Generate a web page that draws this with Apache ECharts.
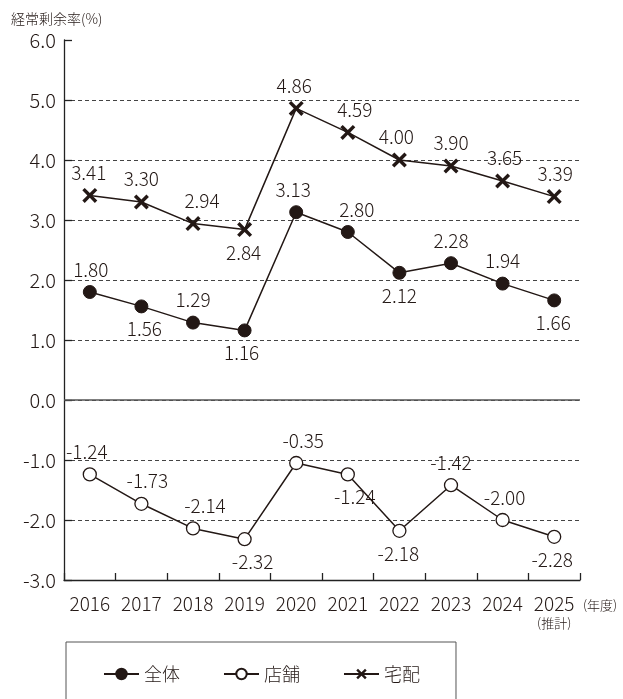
<!DOCTYPE html>
<html>
<head>
<meta charset="utf-8">
<script src="https://cdn.jsdelivr.net/npm/echarts@6/dist/echarts.min.js"></script>
<style>
  html, body { margin: 0; padding: 0; background: #fff; }
  #chart { width: 623px; height: 699px; }
</style>
</head>
<body>
<div id="chart"></div>
<script>
// 年度
const years = ['2016', '2017', '2018', '2019', '2020', '2021', '2022', '2023', '2024', '2025'];
const yTicks = [-3, -2, -1, 0, 1, 2, 3, 4, 5, 6];

// 全体
const allValues = [1.80, 1.56, 1.29, 1.16, 3.13, 2.80, 2.12, 2.28, 1.94, 1.66];
const allLabels = ['1.80', '1.56', '1.29', '1.16', '3.13', '2.80', '2.12', '2.28', '1.94', '1.66'];
// 店舗 (2020 point sits near -1.05 in the source while its label reads -0.35)
const storeValues = [-1.24, -1.73, -2.14, -2.32, -1.05, -1.24, -2.18, -1.42, -2.00, -2.28];
const storeLabels = ['-1.24', '-1.73', '-2.14', '-2.32', '-0.35', '-1.24', '-2.18', '-1.42', '-2.00', '-2.28'];
// 宅配
const deliveryValues = [3.41, 3.30, 2.94, 2.84, 4.86, 4.46, 4.00, 3.90, 3.65, 3.39];
const deliveryLabels = ['3.41', '3.30', '2.94', '2.84', '4.86', '4.59', '4.00', '3.90', '3.65', '3.39'];

// label placement (top / bottom + horizontal nudge)
const allPos = [['top', 1], ['bottom', 3], ['top', 0], ['bottom', -3], ['top', -3], ['top', 9], ['bottom', 0], ['top', 0], ['top', 0], ['bottom', -1]];
const storePos = [['top', -3], ['top', 6], ['top', 12], ['bottom', 8], ['top', 7], ['bottom', 7], ['bottom', -1], ['top', 0], ['top', 2], ['bottom', -2]];
const deliveryPos = [['top', -1], ['top', 0], ['top', 9], ['bottom', -1], ['top', -2], ['top', 7], ['top', -3], ['top', 0], ['top', 2], ['top', 1]];

const ink = '#231815';
const font = '"Noto Sans CJK JP", "Noto Sans", sans-serif';
const crossPath = 'path://M0,2.6 L2.6,0 L8,5.4 L13.4,0 L16,2.6 L10.6,8 L16,13.4 L13.4,16 L8,10.6 L2.6,16 L0,13.4 L5.4,8 Z';

function buildData(values, labels, pos) {
    return values.map((v, i) => ({
        value: v,
        label: {
            formatter: labels[i],
            position: pos[i][0],
            offset: [pos[i][1], 0]
        }
    }));
}

const baseLabel = {
    show: true,
    distance: 6,
    color: ink,
    fontSize: 19,
    fontWeight: 300,
    fontFamily: font
};

const myChart = echarts.init(document.getElementById('chart'), null, { renderer: 'canvas' });

const option = {
    animation: false,
    title: {
        text: '経常剰余率(%)',
        left: 6,
        top: 7,
        textStyle: { fontSize: 14, fontWeight: 300, color: ink, fontFamily: font }
    },
    legend: {
        left: 66,
        top: 642,
        padding: [23, 36, 40, 37],
        borderColor: '#555',
        borderWidth: 1,
        itemWidth: 35,
        itemHeight: 13,
        itemGap: 43,
        textStyle: { fontSize: 18, fontWeight: 300, color: ink, fontFamily: font },
        data: ['全体', '店舗', '宅配']
    },
    grid: {
        left: 64,
        right: 43,
        top: 40,
        bottom: 119,
        outerBoundsMode: 'none'
    },
    xAxis: {
        type: 'category',
        data: years,
        name: '(年度)',
        nameLocation: 'end',
        nameGap: 3,
        nameTextStyle: {
            fontSize: 13, fontWeight: 300, color: ink, fontFamily: font,
            verticalAlign: 'top', padding: [19, 0, 0, 0]
        },
        axisLine: { onZero: false, lineStyle: { color: '#222', width: 1.3 } },
        axisTick: {
            show: true, inside: true, length: 7,
            lineStyle: { color: '#222', width: 1.3 }
        },
        axisLabel: {
            interval: 0,
            margin: 14,
            color: ink,
            fontSize: 19,
            fontWeight: 300,
            fontFamily: font,
            formatter: (v) => v === '2025' ? v + '\n{s|(推計)}' : v,
            rich: {
                s: { fontSize: 13, fontWeight: 300, color: ink, fontFamily: font, lineHeight: 16, padding: [4, 0, 0, 0] }
            }
        },
        splitLine: { show: false }
    },
    yAxis: {
        type: 'value',
        min: yTicks[0],
        max: yTicks[yTicks.length - 1],
        interval: 1,
        axisLine: { show: true, lineStyle: { color: '#222', width: 1.3 } },
        axisTick: { show: true, inside: true, length: 8, lineStyle: { color: '#222', width: 1.3 } },
        axisLabel: {
            margin: 8,
            color: ink,
            fontSize: 20,
            fontWeight: 300,
            fontFamily: font,
            formatter: (v) => v.toFixed(1)
        },
        splitLine: {
            show: true,
            showMinLine: false,
            showMaxLine: false,
            lineStyle: { color: '#444', type: [4, 3], width: 1 }
        }
    },
    series: [
        {
            name: '全体',
            type: 'line',
            data: buildData(allValues, allLabels, allPos),
            symbol: 'circle',
            symbolSize: 13,
            itemStyle: { color: ink, borderColor: ink, borderWidth: 1 },
            lineStyle: { color: ink, width: 1.5 },
            label: baseLabel,
            markLine: {
                silent: true,
                symbol: 'none',
                label: { show: false },
                lineStyle: { color: '#555', type: 'solid', width: 1.5 },
                data: [{ yAxis: 0 }]
            },
            z: 3
        },
        {
            name: '店舗',
            type: 'line',
            data: buildData(storeValues, storeLabels, storePos),
            symbol: 'circle',
            symbolSize: 13,
            itemStyle: { color: '#fff', borderColor: ink, borderWidth: 1.3 },
            lineStyle: { color: ink, width: 1.5 },
            label: baseLabel,
            z: 3
        },
        {
            name: '宅配',
            type: 'line',
            data: buildData(deliveryValues, deliveryLabels, deliveryPos),
            symbol: crossPath,
            symbolSize: 15,
            itemStyle: { color: ink },
            lineStyle: { color: ink, width: 1.5 },
            label: baseLabel,
            z: 3
        }
    ]
};

myChart.setOption(option);
</script>
</body>
</html>
